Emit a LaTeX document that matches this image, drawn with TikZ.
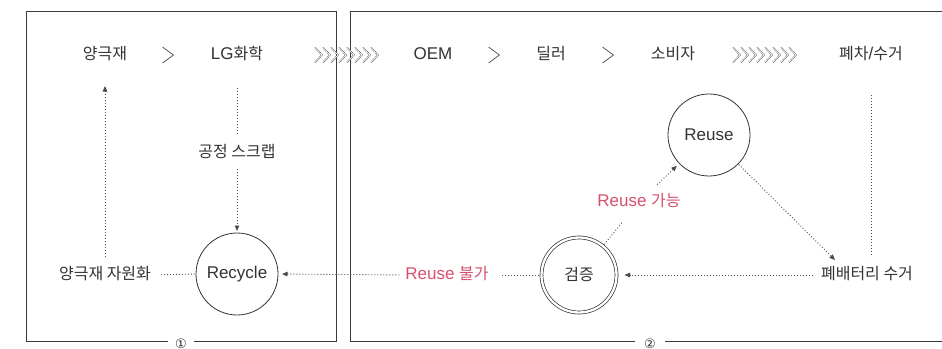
\documentclass[tikz,border=0pt]{standalone}
\usepackage{fontspec}
\setmainfont{Liberation Sans}
\newfontfamily\kr{Noto Sans CJK KR}[Scale=0.94]
\newfontfamily\sym{DejaVu Sans}
\usetikzlibrary{arrows.meta}
\definecolor{ink}{HTML}{333333}
\definecolor{pinkish}{HTML}{D6506E}
\definecolor{boxline}{HTML}{3A3A3A}
\definecolor{dotc}{HTML}{4A4A4A}
\begin{document}
\begin{tikzpicture}[x=1pt,y=-1pt,
  lbl/.style={font=\fontsize{17}{19}\selectfont, text=ink, inner sep=0pt, outer sep=0pt, text height=11pt, text depth=3pt},
  pinklbl/.style={lbl, text=pinkish},
  circ/.style={circle, draw=ink, line width=0.8pt, minimum size=82pt, inner sep=0pt, outer sep=0pt, font=\fontsize{17}{19}\selectfont, text=ink},
  dcirc/.style={circle, draw=ink, line width=0.7pt, double=white, double distance=2.3pt, minimum size=75pt, inner sep=0pt, outer sep=0pt, font=\fontsize{17}{19}\selectfont, text=ink},
  dotl/.style={draw=dotc, line width=0.9pt, dash pattern=on 0.9pt off 2.1pt},
  tip/.style={-{Triangle[length=5.5pt,width=4.5pt]}},
  boxl/.style={draw=boxline, line width=0.9pt},
  chev/.style={draw=ink, line width=0.3pt, double=white, double distance=0.7pt, line join=miter},
  sep/.style={draw=ink, line width=0.6pt},
  numlbl/.style={fill=white, inner ysep=1pt, font=\sym\fontsize{13}{14}\selectfont, text=ink}
]
\clip (0,0) rectangle (942,348);
\fill[white] (0,0) rectangle (942,348);

% frames
\draw[boxl] (26,11) rectangle (336,341.5);
\draw[boxl] (350,11) rectangle (952,341.5);
\node[numlbl, inner xsep=7pt] (n1) at (181,344) {①};
\node[numlbl, inner xsep=9pt] (n2) at (650,344) {②};

% top row
\node[lbl] (cathode) at (105,55) {\kr 양극재};
\node[lbl] (lgchem) at (237,55) {LG{\kr 화학}};
\node[lbl] (oem) at (433,55) {OEM};
\node[lbl] (dealer) at (551,55) {\kr 딜러};
\node[lbl] (consumer) at (673,55) {\kr 소비자};
\node[lbl] (scrap) at (871,55) {{\kr 폐차}/{\kr 수거}};

% single chevrons
\foreach \cx in {168,494,608}{
  \draw[sep] (\cx-5.5,47) -- (\cx+5.5,55) -- (\cx-5.5,63);
}
% chevron bands
\foreach \sx in {315,733}{
  \foreach \i in {0,...,7}{
    \draw[chev] (\sx+\i*8,47.5) -- (\sx+\i*8+7,55) -- (\sx+\i*8,62.5);
  }
}

% circles
\node[circ] (recycle) at (237,274) {Recycle};
\node[circ] (reuse) at (709,135) {Reuse};
\node[dcirc] (verify) at (579,275) {\kr 검증};

% labels
\node[lbl] (scrapproc) at (237,153) {\kr 공정 스크랩};
\node[pinklbl] (reuseok) at (639,202) {Reuse {\kr 가능}};
\node[pinklbl] (reusenot) at (447,275) {Reuse {\kr 불가}};
\node[lbl] (cathres) at (105,275) {\kr 양극재 자원화};
\node[lbl] (collect) at (867,275) {\kr 폐배터리 수거};
\coordinate (collectin) at (835,260);

% connectors
\draw[dotl, tip, shorten <=11pt, shorten >=24pt] (cathres.north) -- (cathode.south);
\draw[dotl, shorten <=26pt, shorten >=11pt] (lgchem.south) -- (scrapproc.north);
\draw[dotl, tip, shorten <=9pt, shorten >=2pt] (scrapproc.south) -- (recycle.north);
\draw[dotl, shorten <=10pt, shorten >=1pt] (cathres.east) -- (recycle.west);
\draw[dotl, shorten <=3pt, shorten >=11pt] (verify.west) -- (reusenot.east);
\draw[dotl, tip, shorten <=6pt, shorten >=4pt] (reusenot.west) -- (recycle.east);
\draw[dotl, tip, shorten <=8pt, shorten >=8pt] (collect.west) -- (verify.east);
\draw[dotl, shorten <=2pt, shorten >=16pt] (verify) -- (reuseok);
\draw[dotl, tip, shorten <=15pt, shorten >=3.5pt] (reuseok) -- (reuse);
\draw[dotl, tip, shorten <=1pt] (reuse) -- (collectin);
\draw[dotl, shorten <=33pt, shorten >=11pt] (scrap.south) -- (scrap.south |- collect.north);
\end{tikzpicture}
\end{document}
